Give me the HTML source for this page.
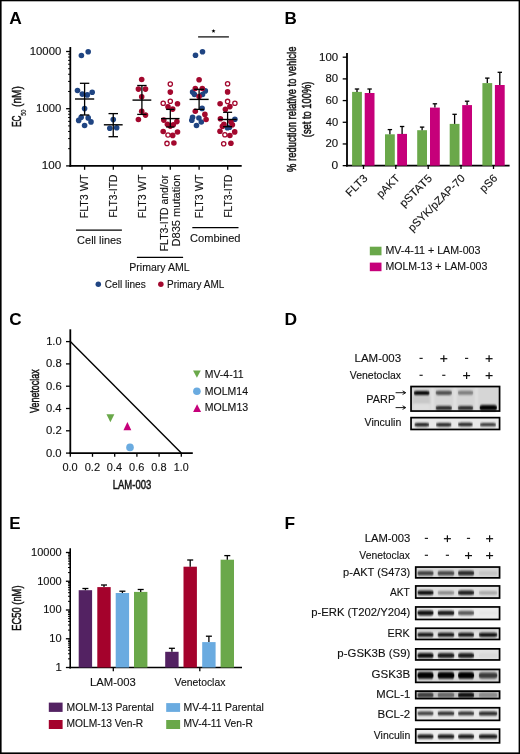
<!DOCTYPE html>
<html><head><meta charset="utf-8"><title>Figure</title>
<style>
html,body{margin:0;padding:0;background:#fff;}
svg{display:block;will-change:transform;}
text{font-family:"Liberation Sans",sans-serif;}
</style></head><body>
<svg width="520" height="754" viewBox="0 0 520 754">
<defs><filter id="bl" x="-20%" y="-100%" width="140%" height="300%"><feGaussianBlur stdDeviation="0.75 0.8"/></filter><filter id="bl2" x="-50%" y="-50%" width="200%" height="200%"><feGaussianBlur stdDeviation="1.2"/></filter></defs>
<rect x="0" y="0" width="520" height="754" fill="#fff"/>
<text x="9.37" y="23.8" font-size="16.5" font-weight="bold" fill="#000" textLength="12.59" lengthAdjust="spacingAndGlyphs">A</text>
<text x="284.46" y="24" font-size="16.5" font-weight="bold" fill="#000" textLength="12.32" lengthAdjust="spacingAndGlyphs">B</text>
<text x="9.3" y="325.3" font-size="16.5" font-weight="bold" fill="#000" textLength="12.37" lengthAdjust="spacingAndGlyphs">C</text>
<text x="284.63" y="325.4" font-size="16.5" font-weight="bold" fill="#000" textLength="12.6" lengthAdjust="spacingAndGlyphs">D</text>
<text x="9.37" y="528.6" font-size="16.5" font-weight="bold" fill="#000" textLength="11.29" lengthAdjust="spacingAndGlyphs">E</text>
<text x="284.64" y="528.5" font-size="16.5" font-weight="bold" fill="#000" textLength="10.6" lengthAdjust="spacingAndGlyphs">F</text>
<line x1="70.3" y1="47" x2="70.3" y2="166.8" stroke="#000" stroke-width="1.8"/>
<line x1="66.1" y1="165.9" x2="70.3" y2="165.9" stroke="#000" stroke-width="1.3"/>
<line x1="66.1" y1="108.7" x2="70.3" y2="108.7" stroke="#000" stroke-width="1.3"/>
<line x1="66.1" y1="51.5" x2="70.3" y2="51.5" stroke="#000" stroke-width="1.3"/>
<line x1="68.1" y1="148.68" x2="70.3" y2="148.68" stroke="#000" stroke-width="1"/>
<line x1="68.1" y1="138.61" x2="70.3" y2="138.61" stroke="#000" stroke-width="1"/>
<line x1="68.1" y1="131.46" x2="70.3" y2="131.46" stroke="#000" stroke-width="1"/>
<line x1="68.1" y1="125.92" x2="70.3" y2="125.92" stroke="#000" stroke-width="1"/>
<line x1="68.1" y1="121.39" x2="70.3" y2="121.39" stroke="#000" stroke-width="1"/>
<line x1="68.1" y1="117.56" x2="70.3" y2="117.56" stroke="#000" stroke-width="1"/>
<line x1="68.1" y1="114.24" x2="70.3" y2="114.24" stroke="#000" stroke-width="1"/>
<line x1="68.1" y1="111.32" x2="70.3" y2="111.32" stroke="#000" stroke-width="1"/>
<line x1="68.1" y1="91.48" x2="70.3" y2="91.48" stroke="#000" stroke-width="1"/>
<line x1="68.1" y1="81.41" x2="70.3" y2="81.41" stroke="#000" stroke-width="1"/>
<line x1="68.1" y1="74.26" x2="70.3" y2="74.26" stroke="#000" stroke-width="1"/>
<line x1="68.1" y1="68.72" x2="70.3" y2="68.72" stroke="#000" stroke-width="1"/>
<line x1="68.1" y1="64.19" x2="70.3" y2="64.19" stroke="#000" stroke-width="1"/>
<line x1="68.1" y1="60.36" x2="70.3" y2="60.36" stroke="#000" stroke-width="1"/>
<line x1="68.1" y1="57.04" x2="70.3" y2="57.04" stroke="#000" stroke-width="1"/>
<line x1="68.1" y1="54.12" x2="70.3" y2="54.12" stroke="#000" stroke-width="1"/>
<line x1="69.4" y1="165.9" x2="241.7" y2="165.9" stroke="#000" stroke-width="1.8"/>
<text x="29.74" y="54.9" font-size="10" fill="#111" stroke="#111" stroke-width="0.12" textLength="31.51" lengthAdjust="spacingAndGlyphs">10000</text>
<text x="36.14" y="112.1" font-size="10" fill="#111" stroke="#111" stroke-width="0.12" textLength="25.1" lengthAdjust="spacingAndGlyphs">1000</text>
<text x="41.81" y="169.3" font-size="10" fill="#111" stroke="#111" stroke-width="0.12" textLength="19.44" lengthAdjust="spacingAndGlyphs">100</text>
<line x1="84.6" y1="165.9" x2="84.6" y2="169.8" stroke="#000" stroke-width="1.3"/>
<line x1="113.3" y1="165.9" x2="113.3" y2="169.8" stroke="#000" stroke-width="1.3"/>
<line x1="142" y1="165.9" x2="142" y2="169.8" stroke="#000" stroke-width="1.3"/>
<line x1="170.3" y1="165.9" x2="170.3" y2="169.8" stroke="#000" stroke-width="1.3"/>
<line x1="199.1" y1="165.9" x2="199.1" y2="169.8" stroke="#000" stroke-width="1.3"/>
<line x1="227.7" y1="165.9" x2="227.7" y2="169.8" stroke="#000" stroke-width="1.3"/>
<text transform="translate(21.3 126.3) rotate(-90)" x="-0.68" y="0" font-size="13" fill="#111" stroke="#111" stroke-width="0.5" textLength="11.49" lengthAdjust="spacingAndGlyphs">EC</text>
<text transform="translate(25.9 115.6) rotate(-90)" x="-0.22" y="0" font-size="7.6" fill="#111" stroke="#111" stroke-width="0.2" textLength="6.24" lengthAdjust="spacingAndGlyphs">50</text>
<text transform="translate(21.3 106.3) rotate(-90)" x="-0.63" y="0" font-size="13" fill="#111" stroke="#111" stroke-width="0.5" textLength="20.75" lengthAdjust="spacingAndGlyphs">(nM)</text>
<text transform="translate(88.4 217.5) rotate(-90)" x="-0.86" y="0" font-size="11" fill="#111" stroke="#111" stroke-width="0.12" textLength="43.8" lengthAdjust="spacingAndGlyphs">FLT3 WT</text>
<text transform="translate(117.2 216.8) rotate(-90)" x="-0.82" y="0" font-size="11" fill="#111" stroke="#111" stroke-width="0.12" textLength="42.9" lengthAdjust="spacingAndGlyphs">FLT3-ITD</text>
<text transform="translate(145.8 217.5) rotate(-90)" x="-0.86" y="0" font-size="11" fill="#111" stroke="#111" stroke-width="0.12" textLength="43.8" lengthAdjust="spacingAndGlyphs">FLT3 WT</text>
<text transform="translate(167.5 250.4) rotate(-90)" x="-0.85" y="0" font-size="11" fill="#111" stroke="#111" stroke-width="0.12" textLength="76.22" lengthAdjust="spacingAndGlyphs">FLT3-ITD and/or</text>
<text transform="translate(180.4 245.6) rotate(-90)" x="-0.91" y="0" font-size="11" fill="#111" stroke="#111" stroke-width="0.12" textLength="72.03" lengthAdjust="spacingAndGlyphs">D835 mutation</text>
<text transform="translate(202.9 217.5) rotate(-90)" x="-0.86" y="0" font-size="11" fill="#111" stroke="#111" stroke-width="0.12" textLength="43.8" lengthAdjust="spacingAndGlyphs">FLT3 WT</text>
<text transform="translate(231.6 216.8) rotate(-90)" x="-0.82" y="0" font-size="11" fill="#111" stroke="#111" stroke-width="0.12" textLength="42.9" lengthAdjust="spacingAndGlyphs">FLT3-ITD</text>
<line x1="76" y1="230.2" x2="121.9" y2="230.2" stroke="#000" stroke-width="1.2"/>
<text x="77.14" y="243.9" font-size="10.8" fill="#111" stroke="#111" stroke-width="0.12" textLength="44.45" lengthAdjust="spacingAndGlyphs">Cell lines</text>
<line x1="192.3" y1="227.7" x2="238.5" y2="227.7" stroke="#000" stroke-width="1.2"/>
<text x="190.04" y="241.6" font-size="10.8" fill="#111" stroke="#111" stroke-width="0.12" textLength="50.48" lengthAdjust="spacingAndGlyphs">Combined</text>
<line x1="136.9" y1="257.3" x2="183.1" y2="257.3" stroke="#000" stroke-width="1.2"/>
<text x="129.24" y="270.9" font-size="10.5" fill="#111" stroke="#111" stroke-width="0.12" textLength="60.4" lengthAdjust="spacingAndGlyphs">Primary AML</text>
<circle cx="98.3" cy="284.2" r="2.75" fill="#1f4482"/>
<text x="104.79" y="287.7" font-size="10.8" fill="#111" stroke="#111" stroke-width="0.12" textLength="40.98" lengthAdjust="spacingAndGlyphs">Cell lines</text>
<circle cx="160.85" cy="284.2" r="2.75" fill="#a3082e"/>
<text x="166.99" y="287.7" font-size="10.8" fill="#111" stroke="#111" stroke-width="0.12" textLength="57.34" lengthAdjust="spacingAndGlyphs">Primary AML</text>
<line x1="198.1" y1="36.9" x2="228.9" y2="36.9" stroke="#000" stroke-width="1.2"/>
<polygon points="213.5,29 214.03,30.37 215.5,30.45 214.36,31.38 214.73,32.8 213.5,32 212.27,32.8 212.64,31.38 211.5,30.45 212.97,30.37" fill="#000"/>
<circle cx="81.4" cy="55.5" r="2.8" fill="#1f4482"/>
<circle cx="88.2" cy="51.7" r="2.8" fill="#1f4482"/>
<circle cx="77.5" cy="90.5" r="2.8" fill="#1f4482"/>
<circle cx="82.3" cy="94.1" r="2.8" fill="#1f4482"/>
<circle cx="87.3" cy="94.9" r="2.8" fill="#1f4482"/>
<circle cx="92.2" cy="92.3" r="2.8" fill="#1f4482"/>
<circle cx="84.6" cy="108.6" r="2.8" fill="#1f4482"/>
<circle cx="81.2" cy="117.3" r="2.8" fill="#1f4482"/>
<circle cx="78.7" cy="120.4" r="2.8" fill="#1f4482"/>
<circle cx="88.2" cy="117.9" r="2.8" fill="#1f4482"/>
<circle cx="91" cy="121.9" r="2.8" fill="#1f4482"/>
<circle cx="84.6" cy="125.5" r="2.8" fill="#1f4482"/>
<circle cx="113.25" cy="119.6" r="2.8" fill="#1f4482"/>
<circle cx="109.8" cy="128.3" r="2.8" fill="#1f4482"/>
<circle cx="116.7" cy="127.7" r="2.8" fill="#1f4482"/>
<circle cx="141.7" cy="79.5" r="2.8" fill="#a3082e"/>
<circle cx="138.4" cy="89.1" r="2.8" fill="#a3082e"/>
<circle cx="145.5" cy="89.1" r="2.8" fill="#a3082e"/>
<circle cx="141.7" cy="96.8" r="2.8" fill="#a3082e"/>
<circle cx="141.7" cy="111.2" r="2.8" fill="#a3082e"/>
<circle cx="145.5" cy="115.1" r="2.8" fill="#a3082e"/>
<circle cx="138.4" cy="119.5" r="2.8" fill="#a3082e"/>
<circle cx="170.3" cy="92.1" r="2.8" fill="#a3082e"/>
<circle cx="177.5" cy="103.8" r="2.8" fill="#a3082e"/>
<circle cx="168" cy="106.8" r="2.8" fill="#a3082e"/>
<circle cx="172.7" cy="109.1" r="2.8" fill="#a3082e"/>
<circle cx="163.8" cy="120.1" r="2.8" fill="#a3082e"/>
<circle cx="176.9" cy="121.6" r="2.8" fill="#a3082e"/>
<circle cx="167.4" cy="124.3" r="2.8" fill="#a3082e"/>
<circle cx="173.3" cy="124.7" r="2.8" fill="#a3082e"/>
<circle cx="170.3" cy="126.1" r="2.8" fill="#a3082e"/>
<circle cx="163.2" cy="131.5" r="2.8" fill="#a3082e"/>
<circle cx="172.7" cy="135.4" r="2.8" fill="#a3082e"/>
<circle cx="177.5" cy="132" r="2.8" fill="#a3082e"/>
<circle cx="173.9" cy="143" r="2.8" fill="#a3082e"/>
<circle cx="170.3" cy="84.1" r="2.15" fill="#fff" stroke="#a3082e" stroke-width="1.3"/>
<circle cx="170.3" cy="101.3" r="2.15" fill="#fff" stroke="#a3082e" stroke-width="1.3"/>
<circle cx="163.2" cy="103.2" r="2.15" fill="#fff" stroke="#a3082e" stroke-width="1.3"/>
<circle cx="168" cy="135" r="2.15" fill="#fff" stroke="#a3082e" stroke-width="1.3"/>
<circle cx="167" cy="143.4" r="2.15" fill="#fff" stroke="#a3082e" stroke-width="1.3"/>
<circle cx="195.5" cy="55.3" r="2.8" fill="#1f4482"/>
<circle cx="202.5" cy="51.8" r="2.8" fill="#1f4482"/>
<circle cx="192.6" cy="92.1" r="2.8" fill="#1f4482"/>
<circle cx="205.3" cy="90.9" r="2.8" fill="#1f4482"/>
<circle cx="194.5" cy="94.5" r="2.8" fill="#1f4482"/>
<circle cx="202.5" cy="94.5" r="2.8" fill="#1f4482"/>
<circle cx="202.1" cy="108.4" r="2.8" fill="#1f4482"/>
<circle cx="192.6" cy="117.2" r="2.8" fill="#1f4482"/>
<circle cx="191.8" cy="120.3" r="2.8" fill="#1f4482"/>
<circle cx="198.9" cy="118" r="2.8" fill="#1f4482"/>
<circle cx="201.3" cy="122" r="2.8" fill="#1f4482"/>
<circle cx="196.5" cy="125.5" r="2.8" fill="#1f4482"/>
<circle cx="199.1" cy="79.8" r="2.8" fill="#a3082e"/>
<circle cx="195.3" cy="88.5" r="2.8" fill="#a3082e"/>
<circle cx="202.3" cy="88.5" r="2.8" fill="#a3082e"/>
<circle cx="199.1" cy="96.5" r="2.8" fill="#a3082e"/>
<circle cx="195.3" cy="111.2" r="2.8" fill="#a3082e"/>
<circle cx="204.9" cy="114.4" r="2.8" fill="#a3082e"/>
<circle cx="206.1" cy="119.5" r="2.8" fill="#a3082e"/>
<circle cx="234.9" cy="119.3" r="2.8" fill="#1f4482"/>
<circle cx="227.4" cy="127.7" r="2.8" fill="#1f4482"/>
<circle cx="229.5" cy="127.2" r="2.8" fill="#1f4482"/>
<circle cx="227.6" cy="83.8" r="2.15" fill="#fff" stroke="#a3082e" stroke-width="1.3"/>
<circle cx="227.6" cy="91.9" r="2.8" fill="#a3082e"/>
<circle cx="227.6" cy="101.4" r="2.15" fill="#fff" stroke="#a3082e" stroke-width="1.3"/>
<circle cx="220.1" cy="103.7" r="2.8" fill="#a3082e"/>
<circle cx="234.9" cy="103.2" r="2.15" fill="#fff" stroke="#a3082e" stroke-width="1.3"/>
<circle cx="229.9" cy="106.6" r="2.8" fill="#a3082e"/>
<circle cx="225.4" cy="109.3" r="2.8" fill="#a3082e"/>
<circle cx="220.4" cy="118.8" r="2.8" fill="#a3082e"/>
<circle cx="230.9" cy="121.8" r="2.8" fill="#a3082e"/>
<circle cx="223.9" cy="124.3" r="2.8" fill="#a3082e"/>
<circle cx="232.4" cy="124.8" r="2.8" fill="#a3082e"/>
<circle cx="222.4" cy="126.2" r="2.8" fill="#a3082e"/>
<circle cx="220" cy="131.2" r="2.8" fill="#a3082e"/>
<circle cx="234.7" cy="131.9" r="2.8" fill="#a3082e"/>
<circle cx="224.9" cy="134.7" r="2.15" fill="#fff" stroke="#a3082e" stroke-width="1.3"/>
<circle cx="229.9" cy="135.5" r="2.8" fill="#a3082e"/>
<circle cx="223.7" cy="143.7" r="2.15" fill="#fff" stroke="#a3082e" stroke-width="1.3"/>
<circle cx="230.9" cy="143.2" r="2.8" fill="#a3082e"/>
<line x1="84.6" y1="83.3" x2="84.6" y2="115" stroke="#000" stroke-width="1.3"/>
<line x1="79.9" y1="83.3" x2="89.3" y2="83.3" stroke="#000" stroke-width="1.3"/>
<line x1="79.9" y1="115" x2="89.3" y2="115" stroke="#000" stroke-width="1.3"/>
<line x1="75" y1="99" x2="94.2" y2="99" stroke="#000" stroke-width="1.4"/>
<line x1="113.25" y1="113.6" x2="113.25" y2="136.7" stroke="#000" stroke-width="1.3"/>
<line x1="108.5" y1="113.6" x2="118" y2="113.6" stroke="#000" stroke-width="1.3"/>
<line x1="108.5" y1="136.7" x2="118" y2="136.7" stroke="#000" stroke-width="1.3"/>
<line x1="103.85" y1="124.8" x2="122.65" y2="124.8" stroke="#000" stroke-width="1.4"/>
<line x1="141.9" y1="85.5" x2="141.9" y2="114.4" stroke="#000" stroke-width="1.3"/>
<line x1="137.2" y1="85.5" x2="146.6" y2="85.5" stroke="#000" stroke-width="1.3"/>
<line x1="137.2" y1="114.4" x2="146.6" y2="114.4" stroke="#000" stroke-width="1.3"/>
<line x1="132.5" y1="100.1" x2="151.3" y2="100.1" stroke="#000" stroke-width="1.4"/>
<line x1="170.3" y1="109.4" x2="170.3" y2="127" stroke="#000" stroke-width="1.3"/>
<line x1="166.15" y1="109.4" x2="174.45" y2="109.4" stroke="#000" stroke-width="1.3"/>
<line x1="166.15" y1="127" x2="174.45" y2="127" stroke="#000" stroke-width="1.3"/>
<line x1="161.05" y1="118.6" x2="179.55" y2="118.6" stroke="#000" stroke-width="1.4"/>
<line x1="199.1" y1="89.3" x2="199.1" y2="109.4" stroke="#000" stroke-width="1.3"/>
<line x1="194.1" y1="89.3" x2="204.1" y2="89.3" stroke="#000" stroke-width="1.3"/>
<line x1="194.1" y1="109.4" x2="204.1" y2="109.4" stroke="#000" stroke-width="1.3"/>
<line x1="189.55" y1="99.4" x2="208.65" y2="99.4" stroke="#000" stroke-width="1.4"/>
<line x1="227.6" y1="112.3" x2="227.6" y2="126.7" stroke="#000" stroke-width="1.3"/>
<line x1="223.1" y1="112.3" x2="232.1" y2="112.3" stroke="#000" stroke-width="1.3"/>
<line x1="223.1" y1="126.7" x2="232.1" y2="126.7" stroke="#000" stroke-width="1.3"/>
<line x1="218.4" y1="119.5" x2="236.8" y2="119.5" stroke="#000" stroke-width="1.4"/>
<line x1="347" y1="52.9" x2="347" y2="166.55" stroke="#000" stroke-width="1.8"/>
<line x1="342.7" y1="165.65" x2="347" y2="165.65" stroke="#000" stroke-width="1.3"/>
<line x1="342.7" y1="143.96" x2="347" y2="143.96" stroke="#000" stroke-width="1.3"/>
<line x1="342.7" y1="122.27" x2="347" y2="122.27" stroke="#000" stroke-width="1.3"/>
<line x1="342.7" y1="100.58" x2="347" y2="100.58" stroke="#000" stroke-width="1.3"/>
<line x1="342.7" y1="78.89" x2="347" y2="78.89" stroke="#000" stroke-width="1.3"/>
<line x1="342.7" y1="57.2" x2="347" y2="57.2" stroke="#000" stroke-width="1.3"/>
<line x1="346.1" y1="165.65" x2="509.6" y2="165.65" stroke="#000" stroke-width="1.7"/>
<text x="319.03" y="60.6" font-size="10" fill="#111" stroke="#111" stroke-width="0.12" textLength="19.12" lengthAdjust="spacingAndGlyphs">100</text>
<text x="325.51" y="82.29" font-size="10" fill="#111" stroke="#111" stroke-width="0.12" textLength="12.64" lengthAdjust="spacingAndGlyphs">80</text>
<text x="325.42" y="103.98" font-size="10" fill="#111" stroke="#111" stroke-width="0.12" textLength="12.73" lengthAdjust="spacingAndGlyphs">60</text>
<text x="325.74" y="125.67" font-size="10" fill="#111" stroke="#111" stroke-width="0.12" textLength="12.39" lengthAdjust="spacingAndGlyphs">40</text>
<text x="325.42" y="147.36" font-size="10" fill="#111" stroke="#111" stroke-width="0.12" textLength="12.72" lengthAdjust="spacingAndGlyphs">20</text>
<text x="331.53" y="169.05" font-size="10" fill="#111" stroke="#111" stroke-width="0.12" textLength="6.63" lengthAdjust="spacingAndGlyphs">0</text>
<rect x="352.1" y="91.9" width="9.8" height="73.75" fill="#6aa84a" />
<rect x="364.7" y="93" width="9.8" height="72.65" fill="#c6007a" />
<line x1="357" y1="89" x2="357" y2="91.9" stroke="#000" stroke-width="1.3"/>
<line x1="354.8" y1="89" x2="359.2" y2="89" stroke="#000" stroke-width="1.3"/>
<line x1="369.6" y1="89" x2="369.6" y2="93" stroke="#000" stroke-width="1.3"/>
<line x1="367.4" y1="89" x2="371.8" y2="89" stroke="#000" stroke-width="1.3"/>
<rect x="385" y="134.3" width="9.8" height="31.35" fill="#6aa84a" />
<rect x="397.2" y="133.9" width="9.8" height="31.75" fill="#c6007a" />
<line x1="389.9" y1="129.6" x2="389.9" y2="134.3" stroke="#000" stroke-width="1.3"/>
<line x1="387.7" y1="129.6" x2="392.1" y2="129.6" stroke="#000" stroke-width="1.3"/>
<line x1="402.1" y1="126.5" x2="402.1" y2="133.9" stroke="#000" stroke-width="1.3"/>
<line x1="399.9" y1="126.5" x2="404.3" y2="126.5" stroke="#000" stroke-width="1.3"/>
<rect x="417.2" y="130.2" width="9.8" height="35.45" fill="#6aa84a" />
<rect x="430" y="107.6" width="9.8" height="58.05" fill="#c6007a" />
<line x1="422.1" y1="127.1" x2="422.1" y2="130.2" stroke="#000" stroke-width="1.3"/>
<line x1="419.9" y1="127.1" x2="424.3" y2="127.1" stroke="#000" stroke-width="1.3"/>
<line x1="434.9" y1="103.8" x2="434.9" y2="107.6" stroke="#000" stroke-width="1.3"/>
<line x1="432.7" y1="103.8" x2="437.1" y2="103.8" stroke="#000" stroke-width="1.3"/>
<rect x="449.7" y="123.9" width="9.8" height="41.75" fill="#6aa84a" />
<rect x="462.2" y="105.1" width="9.8" height="60.55" fill="#c6007a" />
<line x1="454.6" y1="114.3" x2="454.6" y2="123.9" stroke="#000" stroke-width="1.3"/>
<line x1="452.4" y1="114.3" x2="456.8" y2="114.3" stroke="#000" stroke-width="1.3"/>
<line x1="467.1" y1="101.2" x2="467.1" y2="105.1" stroke="#000" stroke-width="1.3"/>
<line x1="464.9" y1="101.2" x2="469.3" y2="101.2" stroke="#000" stroke-width="1.3"/>
<rect x="482.4" y="83.1" width="9.8" height="82.55" fill="#6aa84a" />
<rect x="494.9" y="85" width="9.8" height="80.65" fill="#c6007a" />
<line x1="487.3" y1="78.1" x2="487.3" y2="83.1" stroke="#000" stroke-width="1.3"/>
<line x1="485.1" y1="78.1" x2="489.5" y2="78.1" stroke="#000" stroke-width="1.3"/>
<line x1="499.8" y1="72.3" x2="499.8" y2="85" stroke="#000" stroke-width="1.3"/>
<line x1="497.6" y1="72.3" x2="502" y2="72.3" stroke="#000" stroke-width="1.3"/>
<line x1="363.5" y1="165.65" x2="363.5" y2="169" stroke="#000" stroke-width="1.3"/>
<line x1="395.8" y1="165.65" x2="395.8" y2="169" stroke="#000" stroke-width="1.3"/>
<line x1="428.2" y1="165.65" x2="428.2" y2="169" stroke="#000" stroke-width="1.3"/>
<line x1="461" y1="165.65" x2="461" y2="169" stroke="#000" stroke-width="1.3"/>
<line x1="493.5" y1="165.65" x2="493.5" y2="169" stroke="#000" stroke-width="1.3"/>
<text transform="translate(296 171.6) rotate(-90)" x="-0.34" y="0" font-size="13" fill="#111" stroke="#111" stroke-width="0.5" textLength="125.36" lengthAdjust="spacingAndGlyphs">% reduction relative to vehicle</text>
<text transform="translate(310.7 136.6) rotate(-90)" x="-0.58" y="0" font-size="13" fill="#111" stroke="#111" stroke-width="0.5" textLength="55.56" lengthAdjust="spacingAndGlyphs">(set to 100%)</text>
<text transform="translate(368.3 179) rotate(-45)" x="-25.91" y="0" font-size="11.1" fill="#111" stroke="#111" stroke-width="0.12" textLength="25.91" lengthAdjust="spacingAndGlyphs">FLT3</text>
<text transform="translate(400.5 179) rotate(-45)" x="-27.76" y="0" font-size="11.1" fill="#111" stroke="#111" stroke-width="0.12" textLength="27.76" lengthAdjust="spacingAndGlyphs">pAKT</text>
<text transform="translate(432.7 179) rotate(-45)" x="-40.71" y="0" font-size="11.1" fill="#111" stroke="#111" stroke-width="0.12" textLength="40.71" lengthAdjust="spacingAndGlyphs">pSTAT5</text>
<text transform="translate(465.7 179) rotate(-45)" x="-75.27" y="0" font-size="11.1" fill="#111" stroke="#111" stroke-width="0.12" textLength="75.27" lengthAdjust="spacingAndGlyphs">pSYK/pZAP-70</text>
<text transform="translate(498 179) rotate(-45)" x="-19.75" y="0" font-size="11.1" fill="#111" stroke="#111" stroke-width="0.12" textLength="19.75" lengthAdjust="spacingAndGlyphs">pS6</text>
<rect x="369.8" y="246.7" width="11.7" height="8.6" fill="#6aa84a" />
<text x="385.44" y="254.4" font-size="10.5" fill="#111" stroke="#111" stroke-width="0.12" textLength="95.03" lengthAdjust="spacingAndGlyphs">MV-4-11 + LAM-003</text>
<rect x="369.8" y="262.6" width="11.7" height="8.6" fill="#c6007a" />
<text x="385.43" y="270.4" font-size="10.5" fill="#111" stroke="#111" stroke-width="0.12" textLength="101.83" lengthAdjust="spacingAndGlyphs">MOLM-13 + LAM-003</text>
<line x1="70.3" y1="329.3" x2="70.3" y2="454" stroke="#000" stroke-width="1.8"/>
<line x1="69.4" y1="453.1" x2="192.8" y2="453.1" stroke="#000" stroke-width="1.8"/>
<line x1="66" y1="453.1" x2="70.3" y2="453.1" stroke="#000" stroke-width="1.3"/>
<line x1="70.3" y1="453.1" x2="70.3" y2="456.8" stroke="#000" stroke-width="1.3"/>
<line x1="66" y1="430.8" x2="70.3" y2="430.8" stroke="#000" stroke-width="1.3"/>
<line x1="92.5" y1="453.1" x2="92.5" y2="456.8" stroke="#000" stroke-width="1.3"/>
<line x1="66" y1="408.5" x2="70.3" y2="408.5" stroke="#000" stroke-width="1.3"/>
<line x1="114.7" y1="453.1" x2="114.7" y2="456.8" stroke="#000" stroke-width="1.3"/>
<line x1="66" y1="386.2" x2="70.3" y2="386.2" stroke="#000" stroke-width="1.3"/>
<line x1="136.9" y1="453.1" x2="136.9" y2="456.8" stroke="#000" stroke-width="1.3"/>
<line x1="66" y1="363.9" x2="70.3" y2="363.9" stroke="#000" stroke-width="1.3"/>
<line x1="159.1" y1="453.1" x2="159.1" y2="456.8" stroke="#000" stroke-width="1.3"/>
<line x1="66" y1="341.6" x2="70.3" y2="341.6" stroke="#000" stroke-width="1.3"/>
<line x1="181.3" y1="453.1" x2="181.3" y2="456.8" stroke="#000" stroke-width="1.3"/>
<text x="45.96" y="456.6" font-size="10" fill="#111" stroke="#111" stroke-width="0.12" textLength="15.68" lengthAdjust="spacingAndGlyphs">0.0</text>
<text x="62.47" y="471.2" font-size="10" fill="#111" stroke="#111" stroke-width="0.12" textLength="15.26" lengthAdjust="spacingAndGlyphs">0.0</text>
<text x="45.96" y="434.3" font-size="10" fill="#111" stroke="#111" stroke-width="0.12" textLength="15.82" lengthAdjust="spacingAndGlyphs">0.2</text>
<text x="84.67" y="471.2" font-size="10" fill="#111" stroke="#111" stroke-width="0.12" textLength="15.39" lengthAdjust="spacingAndGlyphs">0.2</text>
<text x="45.96" y="412" font-size="10" fill="#111" stroke="#111" stroke-width="0.12" textLength="15.57" lengthAdjust="spacingAndGlyphs">0.4</text>
<text x="106.87" y="471.2" font-size="10" fill="#111" stroke="#111" stroke-width="0.12" textLength="15.14" lengthAdjust="spacingAndGlyphs">0.4</text>
<text x="45.96" y="389.7" font-size="10" fill="#111" stroke="#111" stroke-width="0.12" textLength="15.74" lengthAdjust="spacingAndGlyphs">0.6</text>
<text x="129.07" y="471.2" font-size="10" fill="#111" stroke="#111" stroke-width="0.12" textLength="15.31" lengthAdjust="spacingAndGlyphs">0.6</text>
<text x="45.96" y="367.4" font-size="10" fill="#111" stroke="#111" stroke-width="0.12" textLength="15.73" lengthAdjust="spacingAndGlyphs">0.8</text>
<text x="151.27" y="471.2" font-size="10" fill="#111" stroke="#111" stroke-width="0.12" textLength="15.31" lengthAdjust="spacingAndGlyphs">0.8</text>
<text x="46.15" y="345.1" font-size="10" fill="#111" stroke="#111" stroke-width="0.12" textLength="15.48" lengthAdjust="spacingAndGlyphs">1.0</text>
<text x="173.89" y="471.2" font-size="10" fill="#111" stroke="#111" stroke-width="0.12" textLength="14.83" lengthAdjust="spacingAndGlyphs">1.0</text>
<line x1="70.3" y1="341.6" x2="181.3" y2="453.1" stroke="#000" stroke-width="1.4"/>
<polygon points="106.45,414.25 114.35,414.25 110.4,422.15" fill="#6aa84a"/>
<polygon points="123.45,430.3 131.35,430.3 127.4,422.1" fill="#c6007a"/>
<circle cx="130" cy="447.4" r="3.8" fill="#6aabe0"/>
<text transform="translate(38.5 412.9) rotate(-90)" x="-0.04" y="0" font-size="13" fill="#111" stroke="#111" stroke-width="0.5" textLength="43.53" lengthAdjust="spacingAndGlyphs">Venetoclax</text>
<text x="112.72" y="489" font-size="13" fill="#111" stroke="#111" stroke-width="0.5" textLength="38.5" lengthAdjust="spacingAndGlyphs">LAM-003</text>
<polygon points="193.05,370.5 200.75,370.5 196.9,377.7" fill="#6aa84a"/>
<circle cx="196.9" cy="391.2" r="3.8" fill="#6aabe0"/>
<polygon points="193.1,412.05 201.1,412.05 197.1,404.35" fill="#c6007a"/>
<text x="204.77" y="377.7" font-size="10.2" fill="#111" stroke="#111" stroke-width="0.12" textLength="38.72" lengthAdjust="spacingAndGlyphs">MV-4-11</text>
<text x="204.74" y="394.6" font-size="10.2" fill="#111" stroke="#111" stroke-width="0.12" textLength="43.27" lengthAdjust="spacingAndGlyphs">MOLM14</text>
<text x="204.73" y="411.1" font-size="10.2" fill="#111" stroke="#111" stroke-width="0.12" textLength="43.43" lengthAdjust="spacingAndGlyphs">MOLM13</text>
<text x="354.56" y="361.9" font-size="10.5" fill="#111" stroke="#111" stroke-width="0.12" textLength="46.55" lengthAdjust="spacingAndGlyphs">LAM-003</text>
<text x="349.85" y="378.8" font-size="10.5" fill="#111" stroke="#111" stroke-width="0.12" textLength="51.16" lengthAdjust="spacingAndGlyphs">Venetoclax</text>
<line x1="419.5" y1="358.4" x2="422.7" y2="358.4" stroke="#222" stroke-width="1.2"/>
<line x1="440.3" y1="358.7" x2="447.3" y2="358.7" stroke="#111" stroke-width="1.25"/>
<line x1="443.8" y1="355.3" x2="443.8" y2="362.1" stroke="#111" stroke-width="1.25"/>
<line x1="465" y1="358.4" x2="468.2" y2="358.4" stroke="#222" stroke-width="1.2"/>
<line x1="485.6" y1="358.7" x2="492.6" y2="358.7" stroke="#111" stroke-width="1.25"/>
<line x1="489.1" y1="355.3" x2="489.1" y2="362.1" stroke="#111" stroke-width="1.25"/>
<line x1="419.5" y1="375.3" x2="422.7" y2="375.3" stroke="#222" stroke-width="1.2"/>
<line x1="442.2" y1="375.3" x2="445.4" y2="375.3" stroke="#222" stroke-width="1.2"/>
<line x1="463.1" y1="375.6" x2="470.1" y2="375.6" stroke="#111" stroke-width="1.25"/>
<line x1="466.6" y1="372.2" x2="466.6" y2="379" stroke="#111" stroke-width="1.25"/>
<line x1="485.6" y1="375.6" x2="492.6" y2="375.6" stroke="#111" stroke-width="1.25"/>
<line x1="489.1" y1="372.2" x2="489.1" y2="379" stroke="#111" stroke-width="1.25"/>
<text x="366.33" y="403.3" font-size="10.6" fill="#111" stroke="#111" stroke-width="0.12" textLength="28.83" lengthAdjust="spacingAndGlyphs">PARP</text>
<line x1="395.6" y1="392.7" x2="405" y2="392.7" stroke="#000" stroke-width="0.9"/>
<path d="M402.6 390.9 L405.8 392.7 L402.6 394.5" fill="none" stroke="#000" stroke-width="0.9"/>
<line x1="395.6" y1="407.6" x2="405" y2="407.6" stroke="#000" stroke-width="0.9"/>
<path d="M402.6 405.8 L405.8 407.6 L402.6 409.4" fill="none" stroke="#000" stroke-width="0.9"/>
<text x="364.55" y="426.3" font-size="10.6" fill="#111" stroke="#111" stroke-width="0.12" textLength="36.73" lengthAdjust="spacingAndGlyphs">Vinculin</text>
<rect x="410.2" y="385.7" width="90.2" height="26.2" fill="#d6d6d6"/>
<rect x="431" y="387" width="3" height="24" fill="#e2e2e2" filter="url(#bl2)"/>
<rect x="453.5" y="387" width="3" height="24" fill="#e2e2e2" filter="url(#bl2)"/>
<rect x="475" y="387" width="3" height="24" fill="#e0e0e0" filter="url(#bl2)"/>
<rect x="413" y="396" width="17" height="8" fill="#c8c8c8" filter="url(#bl2)"/>
<rect x="413" y="404" width="17" height="7" fill="#dedede" filter="url(#bl2)"/>
<rect x="413.8" y="391" width="15.8" height="4" rx="3.2" ry="2" fill="#000" filter="url(#bl)"/>
<rect x="435.6" y="390.7" width="16.4" height="4.2" rx="3.2" ry="2.1" fill="#4e4e4e" filter="url(#bl)"/>
<rect x="457.8" y="390.8" width="15.5" height="4" rx="3.2" ry="2" fill="#7c7c7c" filter="url(#bl)"/>
<rect x="435.6" y="405.9" width="16.4" height="4.2" rx="3.2" ry="2.1" fill="#262626" filter="url(#bl)"/>
<rect x="457.8" y="405.9" width="15.5" height="4.2" rx="3.2" ry="2.1" fill="#282828" filter="url(#bl)"/>
<rect x="479.6" y="405" width="17.4" height="5.6" rx="3.2" ry="2.8" fill="#050505" filter="url(#bl)"/>
<rect x="411.05" y="386.55" width="88.5" height="24.5" fill="none" stroke="#000" stroke-width="1.7"/>
<rect x="410.2" y="416.8" width="90.2" height="13.5" fill="#e8e8e8"/>
<rect x="414.5" y="423" width="14.7" height="3.4" rx="3.2" ry="1.7" fill="#141414" filter="url(#bl)"/>
<rect x="436" y="423" width="15.5" height="3.4" rx="3.2" ry="1.7" fill="#1c1c1c" filter="url(#bl)"/>
<rect x="458" y="422.8" width="14.8" height="3.4" rx="3.2" ry="1.7" fill="#1c1c1c" filter="url(#bl)"/>
<rect x="480" y="423.1" width="16" height="3.2" rx="3.2" ry="1.6" fill="#2e2e2e" filter="url(#bl)"/>
<rect x="411.05" y="417.65" width="88.5" height="11.8" fill="none" stroke="#000" stroke-width="1.7"/>
<line x1="70.2" y1="548.3" x2="70.2" y2="668.4" stroke="#000" stroke-width="1.6"/>
<line x1="65.9" y1="667.5" x2="70.2" y2="667.5" stroke="#000" stroke-width="1.3"/>
<line x1="65.9" y1="638.75" x2="70.2" y2="638.75" stroke="#000" stroke-width="1.3"/>
<line x1="65.9" y1="610" x2="70.2" y2="610" stroke="#000" stroke-width="1.3"/>
<line x1="65.9" y1="581.25" x2="70.2" y2="581.25" stroke="#000" stroke-width="1.3"/>
<line x1="65.9" y1="552.5" x2="70.2" y2="552.5" stroke="#000" stroke-width="1.3"/>
<line x1="68" y1="658.85" x2="70.2" y2="658.85" stroke="#000" stroke-width="1"/>
<line x1="68" y1="653.78" x2="70.2" y2="653.78" stroke="#000" stroke-width="1"/>
<line x1="68" y1="650.19" x2="70.2" y2="650.19" stroke="#000" stroke-width="1"/>
<line x1="68" y1="647.4" x2="70.2" y2="647.4" stroke="#000" stroke-width="1"/>
<line x1="68" y1="645.13" x2="70.2" y2="645.13" stroke="#000" stroke-width="1"/>
<line x1="68" y1="643.2" x2="70.2" y2="643.2" stroke="#000" stroke-width="1"/>
<line x1="68" y1="641.54" x2="70.2" y2="641.54" stroke="#000" stroke-width="1"/>
<line x1="68" y1="640.07" x2="70.2" y2="640.07" stroke="#000" stroke-width="1"/>
<line x1="68" y1="630.1" x2="70.2" y2="630.1" stroke="#000" stroke-width="1"/>
<line x1="68" y1="625.03" x2="70.2" y2="625.03" stroke="#000" stroke-width="1"/>
<line x1="68" y1="621.44" x2="70.2" y2="621.44" stroke="#000" stroke-width="1"/>
<line x1="68" y1="618.65" x2="70.2" y2="618.65" stroke="#000" stroke-width="1"/>
<line x1="68" y1="616.38" x2="70.2" y2="616.38" stroke="#000" stroke-width="1"/>
<line x1="68" y1="614.45" x2="70.2" y2="614.45" stroke="#000" stroke-width="1"/>
<line x1="68" y1="612.79" x2="70.2" y2="612.79" stroke="#000" stroke-width="1"/>
<line x1="68" y1="611.32" x2="70.2" y2="611.32" stroke="#000" stroke-width="1"/>
<line x1="68" y1="601.35" x2="70.2" y2="601.35" stroke="#000" stroke-width="1"/>
<line x1="68" y1="596.28" x2="70.2" y2="596.28" stroke="#000" stroke-width="1"/>
<line x1="68" y1="592.69" x2="70.2" y2="592.69" stroke="#000" stroke-width="1"/>
<line x1="68" y1="589.9" x2="70.2" y2="589.9" stroke="#000" stroke-width="1"/>
<line x1="68" y1="587.63" x2="70.2" y2="587.63" stroke="#000" stroke-width="1"/>
<line x1="68" y1="585.7" x2="70.2" y2="585.7" stroke="#000" stroke-width="1"/>
<line x1="68" y1="584.04" x2="70.2" y2="584.04" stroke="#000" stroke-width="1"/>
<line x1="68" y1="582.57" x2="70.2" y2="582.57" stroke="#000" stroke-width="1"/>
<line x1="68" y1="572.6" x2="70.2" y2="572.6" stroke="#000" stroke-width="1"/>
<line x1="68" y1="567.53" x2="70.2" y2="567.53" stroke="#000" stroke-width="1"/>
<line x1="68" y1="563.94" x2="70.2" y2="563.94" stroke="#000" stroke-width="1"/>
<line x1="68" y1="561.15" x2="70.2" y2="561.15" stroke="#000" stroke-width="1"/>
<line x1="68" y1="558.88" x2="70.2" y2="558.88" stroke="#000" stroke-width="1"/>
<line x1="68" y1="556.95" x2="70.2" y2="556.95" stroke="#000" stroke-width="1"/>
<line x1="68" y1="555.29" x2="70.2" y2="555.29" stroke="#000" stroke-width="1"/>
<line x1="68" y1="553.82" x2="70.2" y2="553.82" stroke="#000" stroke-width="1"/>
<line x1="69.4" y1="667.5" x2="242" y2="667.5" stroke="#000" stroke-width="1.7"/>
<text x="55.43" y="670.9" font-size="10" fill="#111" stroke="#111" stroke-width="0.12" textLength="6.32" lengthAdjust="spacingAndGlyphs">1</text>
<text x="49.36" y="642.15" font-size="10" fill="#111" stroke="#111" stroke-width="0.12" textLength="12.27" lengthAdjust="spacingAndGlyphs">10</text>
<text x="43.26" y="613.4" font-size="10" fill="#111" stroke="#111" stroke-width="0.12" textLength="18.37" lengthAdjust="spacingAndGlyphs">100</text>
<text x="37.16" y="584.65" font-size="10" fill="#111" stroke="#111" stroke-width="0.12" textLength="24.47" lengthAdjust="spacingAndGlyphs">1000</text>
<text x="31.06" y="555.9" font-size="10" fill="#111" stroke="#111" stroke-width="0.12" textLength="30.57" lengthAdjust="spacingAndGlyphs">10000</text>
<line x1="113.3" y1="667.5" x2="113.3" y2="671.2" stroke="#000" stroke-width="1.3"/>
<line x1="199.8" y1="667.5" x2="199.8" y2="671.2" stroke="#000" stroke-width="1.3"/>
<text transform="translate(21 630.1) rotate(-90)" x="-0.77" y="0" font-size="13" fill="#111" stroke="#111" stroke-width="0.5" textLength="45.45" lengthAdjust="spacingAndGlyphs">EC50 (nM)</text>
<rect x="78.7" y="590.2" width="13.4" height="77.3" fill="#532262" />
<line x1="85.4" y1="588.5" x2="85.4" y2="590.2" stroke="#000" stroke-width="1.3"/>
<line x1="82.4" y1="588.5" x2="88.4" y2="588.5" stroke="#000" stroke-width="1.3"/>
<rect x="97.3" y="587.1" width="13.4" height="80.4" fill="#a4022c" />
<line x1="104" y1="585" x2="104" y2="587.1" stroke="#000" stroke-width="1.3"/>
<line x1="101" y1="585" x2="107" y2="585" stroke="#000" stroke-width="1.3"/>
<rect x="115.7" y="593" width="13.4" height="74.5" fill="#6aabe0" />
<line x1="122.4" y1="591.2" x2="122.4" y2="593" stroke="#000" stroke-width="1.3"/>
<line x1="119.4" y1="591.2" x2="125.4" y2="591.2" stroke="#000" stroke-width="1.3"/>
<rect x="134" y="591.9" width="13.4" height="75.6" fill="#6aa84a" />
<line x1="140.7" y1="589.5" x2="140.7" y2="591.9" stroke="#000" stroke-width="1.3"/>
<line x1="137.7" y1="589.5" x2="143.7" y2="589.5" stroke="#000" stroke-width="1.3"/>
<rect x="165.2" y="651.8" width="13.4" height="15.7" fill="#532262" />
<line x1="171.9" y1="648.3" x2="171.9" y2="651.8" stroke="#000" stroke-width="1.3"/>
<line x1="168.9" y1="648.3" x2="174.9" y2="648.3" stroke="#000" stroke-width="1.3"/>
<rect x="183.5" y="566.7" width="13.4" height="100.8" fill="#a4022c" />
<line x1="190.2" y1="560" x2="190.2" y2="566.7" stroke="#000" stroke-width="1.3"/>
<line x1="187.2" y1="560" x2="193.2" y2="560" stroke="#000" stroke-width="1.3"/>
<rect x="202.2" y="642.1" width="13.4" height="25.4" fill="#6aabe0" />
<line x1="208.9" y1="636.2" x2="208.9" y2="642.1" stroke="#000" stroke-width="1.3"/>
<line x1="205.9" y1="636.2" x2="211.9" y2="636.2" stroke="#000" stroke-width="1.3"/>
<rect x="220.6" y="559.7" width="13.4" height="107.8" fill="#6aa84a" />
<line x1="227.3" y1="555.6" x2="227.3" y2="559.7" stroke="#000" stroke-width="1.3"/>
<line x1="224.3" y1="555.6" x2="230.3" y2="555.6" stroke="#000" stroke-width="1.3"/>
<text x="89.98" y="686.1" font-size="10.8" fill="#111" stroke="#111" stroke-width="0.12" textLength="45.72" lengthAdjust="spacingAndGlyphs">LAM-003</text>
<text x="174.55" y="686.1" font-size="10.8" fill="#111" stroke="#111" stroke-width="0.12" textLength="50.86" lengthAdjust="spacingAndGlyphs">Venetoclax</text>
<rect x="48.8" y="702.6" width="13.8" height="9.3" fill="#532262" />
<text x="66.55" y="710.5" font-size="10.5" fill="#111" stroke="#111" stroke-width="0.12" textLength="87.34" lengthAdjust="spacingAndGlyphs">MOLM-13 Parental</text>
<rect x="48.8" y="720" width="13.8" height="9" fill="#a4022c" />
<text x="66.57" y="727.3" font-size="10.5" fill="#111" stroke="#111" stroke-width="0.12" textLength="76.7" lengthAdjust="spacingAndGlyphs">MOLM-13 Ven-R</text>
<rect x="166.2" y="703.1" width="13.9" height="8.8" fill="#6aabe0" />
<text x="183.46" y="710.5" font-size="10.5" fill="#111" stroke="#111" stroke-width="0.12" textLength="80.43" lengthAdjust="spacingAndGlyphs">MV-4-11 Parental</text>
<rect x="166.2" y="720" width="13.9" height="9" fill="#6aa84a" />
<text x="183.48" y="727.3" font-size="10.5" fill="#111" stroke="#111" stroke-width="0.12" textLength="69.38" lengthAdjust="spacingAndGlyphs">MV-4-11 Ven-R</text>
<text x="364.68" y="542.1" font-size="10.5" fill="#111" stroke="#111" stroke-width="0.12" textLength="45.62" lengthAdjust="spacingAndGlyphs">LAM-003</text>
<text x="359.36" y="558.5" font-size="10.5" fill="#111" stroke="#111" stroke-width="0.12" textLength="50.55" lengthAdjust="spacingAndGlyphs">Venetoclax</text>
<line x1="424.8" y1="538.4" x2="428" y2="538.4" stroke="#222" stroke-width="1.2"/>
<line x1="443.9" y1="538.7" x2="450.9" y2="538.7" stroke="#111" stroke-width="1.25"/>
<line x1="447.4" y1="535.3" x2="447.4" y2="542.1" stroke="#111" stroke-width="1.25"/>
<line x1="466.9" y1="538.4" x2="470.1" y2="538.4" stroke="#222" stroke-width="1.2"/>
<line x1="486.1" y1="538.7" x2="493.1" y2="538.7" stroke="#111" stroke-width="1.25"/>
<line x1="489.6" y1="535.3" x2="489.6" y2="542.1" stroke="#111" stroke-width="1.25"/>
<line x1="424.8" y1="555.3" x2="428" y2="555.3" stroke="#222" stroke-width="1.2"/>
<line x1="445.8" y1="555.3" x2="449" y2="555.3" stroke="#222" stroke-width="1.2"/>
<line x1="465" y1="555.6" x2="472" y2="555.6" stroke="#111" stroke-width="1.25"/>
<line x1="468.5" y1="552.2" x2="468.5" y2="559" stroke="#111" stroke-width="1.25"/>
<line x1="486.1" y1="555.6" x2="493.1" y2="555.6" stroke="#111" stroke-width="1.25"/>
<line x1="489.6" y1="552.2" x2="489.6" y2="559" stroke="#111" stroke-width="1.25"/>
<text x="343.09" y="576.2" font-size="10.7" fill="#111" stroke="#111" stroke-width="0.12" textLength="67.19" lengthAdjust="spacingAndGlyphs">p-AKT (S473)</text>
<text x="389.98" y="596.1" font-size="10.7" fill="#111" stroke="#111" stroke-width="0.12" textLength="19.85" lengthAdjust="spacingAndGlyphs">AKT</text>
<text x="311.27" y="616.2" font-size="10.7" fill="#111" stroke="#111" stroke-width="0.12" textLength="99.03" lengthAdjust="spacingAndGlyphs">p-ERK (T202/Y204)</text>
<text x="387.51" y="636.9" font-size="10.7" fill="#111" stroke="#111" stroke-width="0.12" textLength="22.21" lengthAdjust="spacingAndGlyphs">ERK</text>
<text x="337.36" y="656.5" font-size="10.7" fill="#111" stroke="#111" stroke-width="0.12" textLength="72.94" lengthAdjust="spacingAndGlyphs">p-GSK3B (S9)</text>
<text x="371.62" y="677.6" font-size="10.7" fill="#111" stroke="#111" stroke-width="0.12" textLength="38.59" lengthAdjust="spacingAndGlyphs">GSK3B</text>
<text x="376.38" y="698.1" font-size="10.7" fill="#111" stroke="#111" stroke-width="0.12" textLength="33.77" lengthAdjust="spacingAndGlyphs">MCL-1</text>
<text x="377.56" y="718.4" font-size="10.7" fill="#111" stroke="#111" stroke-width="0.12" textLength="32.62" lengthAdjust="spacingAndGlyphs">BCL-2</text>
<text x="373.75" y="738.5" font-size="10.7" fill="#111" stroke="#111" stroke-width="0.12" textLength="36.52" lengthAdjust="spacingAndGlyphs">Vinculin</text>
<rect x="414.9" y="566.2" width="85.5" height="12.5" fill="#d8d8d8"/>
<rect x="417.4" y="570.9" width="16.2" height="4.6" rx="3.2" ry="2.3" fill="#404040" filter="url(#bl)"/>
<rect x="437.6" y="570.9" width="16.8" height="4.6" rx="3.2" ry="2.3" fill="#474747" filter="url(#bl)"/>
<rect x="458" y="570.8" width="16.2" height="4.8" rx="3.2" ry="2.4" fill="#262626" filter="url(#bl)"/>
<rect x="478.8" y="570.9" width="18.6" height="4.6" rx="3.2" ry="2.3" fill="#c4c4c4" filter="url(#bl)"/>
<rect x="415.75" y="567.05" width="83.8" height="10.8" fill="none" stroke="#000" stroke-width="1.7"/>
<rect x="414.9" y="585.1" width="85.5" height="13.8" fill="#e2e2e2"/>
<rect x="417.4" y="590.6" width="16.2" height="4.4" rx="3.2" ry="2.2" fill="#101010" filter="url(#bl)"/>
<rect x="437.6" y="590.9" width="16.8" height="3.8" rx="3.2" ry="1.9" fill="#8a8a8a" filter="url(#bl)"/>
<rect x="458" y="590.6" width="16.2" height="4.4" rx="3.2" ry="2.2" fill="#1a1a1a" filter="url(#bl)"/>
<rect x="478.8" y="590.9" width="18.6" height="3.8" rx="3.2" ry="1.9" fill="#a8a8a8" filter="url(#bl)"/>
<rect x="415.75" y="585.95" width="83.8" height="12.1" fill="none" stroke="#000" stroke-width="1.7"/>
<rect x="414.9" y="606.1" width="85.5" height="14.2" fill="#ececec"/>
<rect x="417.4" y="610.6" width="16.2" height="4.8" rx="3.2" ry="2.4" fill="#0c0c0c" filter="url(#bl)"/>
<rect x="437.6" y="610.7" width="16.8" height="4.6" rx="3.2" ry="2.3" fill="#161616" filter="url(#bl)"/>
<rect x="458" y="610.8" width="16.2" height="4.4" rx="3.2" ry="2.2" fill="#5a5a5a" filter="url(#bl)"/>
<rect x="478.8" y="611.2" width="18.6" height="3.6" rx="3.2" ry="1.8" fill="#e6e6e6" filter="url(#bl)"/>
<rect x="415.75" y="606.95" width="83.8" height="12.5" fill="none" stroke="#000" stroke-width="1.7"/>
<rect x="414.9" y="627.4" width="85.5" height="12.9" fill="#e2e2e2"/>
<rect x="418" y="629.2" width="79" height="2.2" fill="#cfcfcf" filter="url(#bl2)"/>
<rect x="417.4" y="632.8" width="16.2" height="4" rx="3.2" ry="2" fill="#0e0e0e" filter="url(#bl)"/>
<rect x="437.6" y="632.8" width="16.8" height="4" rx="3.2" ry="2" fill="#0e0e0e" filter="url(#bl)"/>
<rect x="458" y="632.8" width="16.2" height="4" rx="3.2" ry="2" fill="#0e0e0e" filter="url(#bl)"/>
<rect x="478.8" y="632.7" width="18.6" height="4.2" rx="3.2" ry="2.1" fill="#0a0a0a" filter="url(#bl)"/>
<rect x="415.75" y="628.25" width="83.8" height="11.2" fill="none" stroke="#000" stroke-width="1.7"/>
<rect x="414.9" y="648" width="85.5" height="12.8" fill="#e2e2e2"/>
<rect x="417.4" y="652.9" width="16.2" height="5.2" rx="3.2" ry="2.6" fill="#0e0e0e" filter="url(#bl)"/>
<rect x="437.6" y="653" width="16.8" height="5" rx="3.2" ry="2.5" fill="#1a1a1a" filter="url(#bl)"/>
<rect x="458" y="653" width="16.2" height="5" rx="3.2" ry="2.5" fill="#1a1a1a" filter="url(#bl)"/>
<rect x="478.8" y="653.2" width="18.6" height="4.6" rx="3.2" ry="2.3" fill="#d8d8d8" filter="url(#bl)"/>
<rect x="415.75" y="648.85" width="83.8" height="11.1" fill="none" stroke="#000" stroke-width="1.7"/>
<rect x="414.9" y="668.6" width="85.5" height="14.6" fill="#d6d6d6"/>
<rect x="417.4" y="672" width="16.2" height="6.8" rx="3.2" ry="3.4" fill="#000" filter="url(#bl)"/>
<rect x="437.6" y="672" width="16.8" height="6.8" rx="3.2" ry="3.4" fill="#000" filter="url(#bl)"/>
<rect x="458" y="672" width="16.2" height="6.8" rx="3.2" ry="3.4" fill="#000" filter="url(#bl)"/>
<rect x="478.8" y="672.4" width="18.6" height="6" rx="3.2" ry="3" fill="#3a3a3a" filter="url(#bl)"/>
<rect x="415.75" y="669.45" width="83.8" height="12.9" fill="none" stroke="#000" stroke-width="1.7"/>
<rect x="414.9" y="690.3" width="85.5" height="9.1" fill="#c2c2c2"/>
<rect x="417.4" y="692.4" width="16.2" height="5.2" rx="3.2" ry="2.6" fill="#3e3e3e" filter="url(#bl)"/>
<rect x="437.6" y="692.5" width="16.8" height="5" rx="3.2" ry="2.5" fill="#666" filter="url(#bl)"/>
<rect x="458" y="692.4" width="16.2" height="5.2" rx="3.2" ry="2.6" fill="#080808" filter="url(#bl)"/>
<rect x="478.8" y="692.5" width="18.6" height="5" rx="3.2" ry="2.5" fill="#8a8a8a" filter="url(#bl)"/>
<rect x="415.75" y="691.15" width="83.8" height="7.4" fill="none" stroke="#000" stroke-width="1.7"/>
<rect x="414.9" y="706.9" width="85.5" height="14.3" fill="#e8e8e8"/>
<rect x="417.4" y="711.6" width="16.2" height="3.6" rx="3.2" ry="1.8" fill="#3a3a3a" filter="url(#bl)"/>
<rect x="437.6" y="711.5" width="16.8" height="3.8" rx="3.2" ry="1.9" fill="#2a2a2a" filter="url(#bl)"/>
<rect x="458" y="711.5" width="16.2" height="3.8" rx="3.2" ry="1.9" fill="#2e2e2e" filter="url(#bl)"/>
<rect x="478.8" y="711.4" width="18.6" height="4" rx="3.2" ry="2" fill="#262626" filter="url(#bl)"/>
<rect x="415.75" y="707.75" width="83.8" height="12.6" fill="none" stroke="#000" stroke-width="1.7"/>
<rect x="414.9" y="728.3" width="85.5" height="15.4" fill="#eeeeee"/>
<rect x="417.4" y="734.6" width="16.2" height="4" rx="3.2" ry="2" fill="#080808" filter="url(#bl)"/>
<rect x="437.6" y="734.6" width="16.8" height="4" rx="3.2" ry="2" fill="#080808" filter="url(#bl)"/>
<rect x="458" y="734.6" width="16.2" height="4" rx="3.2" ry="2" fill="#080808" filter="url(#bl)"/>
<rect x="478.8" y="734.6" width="18.6" height="4" rx="3.2" ry="2" fill="#080808" filter="url(#bl)"/>
<rect x="415.75" y="729.15" width="83.8" height="13.7" fill="none" stroke="#000" stroke-width="1.7"/>
<rect x="0" y="0" width="520" height="1.3" fill="#000" />
<rect x="0" y="0" width="1.6" height="754" fill="#000" />
<rect x="518.6" y="0" width="1.4" height="754" fill="#000" />
<rect x="0" y="752.4" width="520" height="1.6" fill="#000" />
</svg>
</body></html>
